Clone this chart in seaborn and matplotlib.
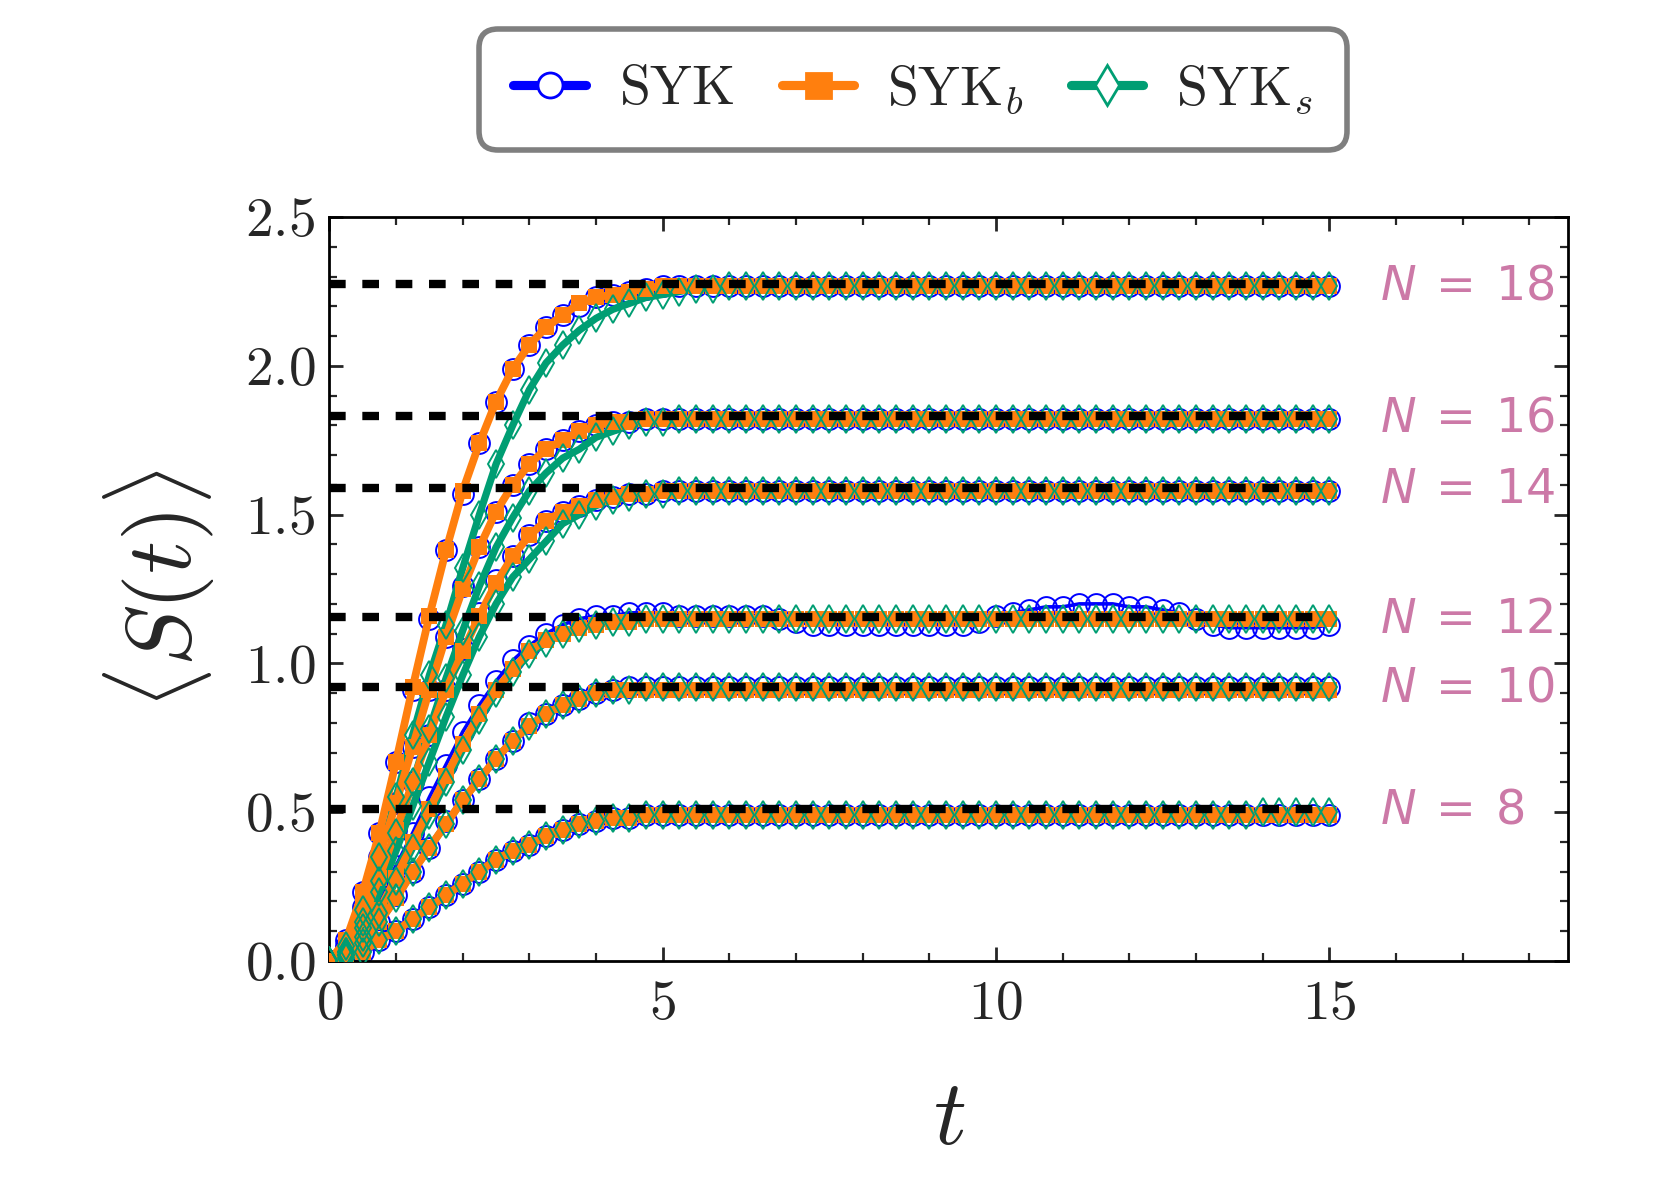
import numpy as np
import matplotlib
matplotlib.use('Agg')
import matplotlib.pyplot as plt
from matplotlib.lines import Line2D
from matplotlib.ticker import MultipleLocator
import seaborn as sns

# time grid of the simulation (step 0.25)
t = np.linspace(0, 15, 61)

n_values = [18, 16, 14, 12, 10, 8]
page_values = [2.275, 1.833, 1.588, 1.155, 0.922, 0.509]
label_y = [2.265, 1.82, 1.58, 1.143, 0.912, 0.502]

# N = 18
syk_18 = [0.00, 0.07, 0.23, 0.43, 0.67, 0.91, 1.15, 1.38, 1.57, 1.74,
          1.88, 1.99, 2.07, 2.13, 2.17, 2.20, 2.23, 2.24, 2.25, 2.26,
          2.27, 2.27, 2.27, 2.27, 2.27, 2.27, 2.27, 2.27, 2.27, 2.27,
          2.27, 2.27, 2.27, 2.27, 2.27, 2.27, 2.27, 2.27, 2.27, 2.27,
          2.27, 2.27, 2.27, 2.27, 2.27, 2.27, 2.27, 2.27, 2.27, 2.27,
          2.27, 2.27, 2.27, 2.27, 2.27, 2.27, 2.27, 2.27, 2.27, 2.27,
          2.27]
sykb_18 = [0.00, 0.07, 0.23, 0.43, 0.67, 0.92, 1.16, 1.38, 1.58, 1.74,
           1.88, 1.99, 2.07, 2.13, 2.17, 2.21, 2.23, 2.24, 2.25, 2.26,
           2.27, 2.27, 2.27, 2.27, 2.27, 2.27, 2.27, 2.27, 2.27, 2.27,
           2.27, 2.27, 2.27, 2.27, 2.27, 2.27, 2.27, 2.27, 2.27, 2.27,
           2.27, 2.27, 2.27, 2.27, 2.27, 2.27, 2.27, 2.27, 2.27, 2.27,
           2.27, 2.27, 2.27, 2.27, 2.27, 2.27, 2.27, 2.27, 2.27, 2.27,
           2.27]
syks_18 = [0.00, 0.05, 0.17, 0.35, 0.55, 0.76, 0.96, 1.13, 1.32, 1.50,
           1.67, 1.80, 1.92, 2.01, 2.07, 2.12, 2.16, 2.19, 2.21, 2.23,
           2.24, 2.25, 2.26, 2.26, 2.27, 2.27, 2.27, 2.27, 2.27, 2.27,
           2.27, 2.27, 2.27, 2.27, 2.27, 2.27, 2.27, 2.27, 2.27, 2.27,
           2.27, 2.27, 2.27, 2.27, 2.27, 2.27, 2.27, 2.27, 2.27, 2.27,
           2.27, 2.27, 2.27, 2.27, 2.27, 2.27, 2.27, 2.27, 2.27, 2.27,
           2.27]

# N = 16
syk_16 = [0.00, 0.05, 0.18, 0.35, 0.53, 0.72, 0.91, 1.09, 1.26, 1.39,
          1.51, 1.60, 1.67, 1.72, 1.75, 1.78, 1.80, 1.81, 1.81, 1.82,
          1.82, 1.82, 1.82, 1.82, 1.82, 1.82, 1.82, 1.82, 1.82, 1.82,
          1.82, 1.82, 1.82, 1.82, 1.82, 1.82, 1.82, 1.82, 1.82, 1.82,
          1.82, 1.82, 1.82, 1.82, 1.82, 1.82, 1.82, 1.82, 1.82, 1.82,
          1.82, 1.82, 1.82, 1.82, 1.82, 1.82, 1.82, 1.82, 1.82, 1.82,
          1.82]
sykb_16 = [0.00, 0.05, 0.18, 0.35, 0.53, 0.72, 0.91, 1.09, 1.25, 1.39,
           1.51, 1.60, 1.67, 1.72, 1.75, 1.78, 1.80, 1.81, 1.81, 1.82,
           1.82, 1.82, 1.82, 1.82, 1.82, 1.82, 1.82, 1.82, 1.82, 1.82,
           1.82, 1.82, 1.82, 1.82, 1.82, 1.82, 1.82, 1.82, 1.82, 1.82,
           1.82, 1.82, 1.82, 1.82, 1.82, 1.82, 1.82, 1.82, 1.82, 1.82,
           1.82, 1.82, 1.82, 1.82, 1.82, 1.82, 1.82, 1.82, 1.82, 1.82,
           1.82]
syks_16 = [0.00, 0.03, 0.13, 0.27, 0.43, 0.60, 0.78, 0.95, 1.11, 1.26,
           1.39, 1.49, 1.58, 1.64, 1.69, 1.72, 1.76, 1.78, 1.80, 1.81,
           1.81, 1.82, 1.82, 1.82, 1.82, 1.82, 1.82, 1.82, 1.82, 1.82,
           1.82, 1.82, 1.82, 1.82, 1.82, 1.82, 1.82, 1.82, 1.82, 1.82,
           1.82, 1.82, 1.82, 1.82, 1.82, 1.82, 1.82, 1.82, 1.82, 1.82,
           1.82, 1.82, 1.82, 1.82, 1.82, 1.82, 1.82, 1.82, 1.82, 1.82,
           1.82]

# N = 14
syk_14 = [0.00, 0.04, 0.14, 0.28, 0.44, 0.60, 0.76, 0.91, 1.05, 1.17,
          1.28, 1.36, 1.43, 1.48, 1.51, 1.53, 1.55, 1.56, 1.57, 1.57,
          1.58, 1.58, 1.58, 1.58, 1.58, 1.58, 1.58, 1.58, 1.58, 1.58,
          1.58, 1.58, 1.58, 1.58, 1.58, 1.58, 1.58, 1.58, 1.58, 1.58,
          1.58, 1.58, 1.58, 1.58, 1.58, 1.58, 1.58, 1.58, 1.58, 1.58,
          1.58, 1.58, 1.58, 1.58, 1.58, 1.58, 1.58, 1.58, 1.58, 1.58,
          1.58]
sykb_14 = [0.00, 0.04, 0.14, 0.28, 0.44, 0.60, 0.76, 0.91, 1.04, 1.16,
           1.27, 1.36, 1.43, 1.48, 1.51, 1.53, 1.55, 1.56, 1.57, 1.57,
           1.58, 1.58, 1.58, 1.58, 1.58, 1.58, 1.58, 1.58, 1.58, 1.58,
           1.58, 1.58, 1.58, 1.58, 1.58, 1.58, 1.58, 1.58, 1.58, 1.58,
           1.58, 1.58, 1.58, 1.58, 1.58, 1.58, 1.58, 1.58, 1.58, 1.58,
           1.58, 1.58, 1.58, 1.58, 1.58, 1.58, 1.58, 1.58, 1.58, 1.58,
           1.58]
syks_14 = [0.00, 0.03, 0.11, 0.23, 0.37, 0.52, 0.67, 0.82, 0.96, 1.09,
           1.20, 1.29, 1.35, 1.41, 1.47, 1.50, 1.53, 1.55, 1.56, 1.57,
           1.57, 1.58, 1.58, 1.58, 1.58, 1.58, 1.58, 1.58, 1.58, 1.58,
           1.58, 1.58, 1.58, 1.58, 1.58, 1.58, 1.58, 1.58, 1.58, 1.58,
           1.58, 1.58, 1.58, 1.58, 1.58, 1.58, 1.58, 1.58, 1.58, 1.58,
           1.58, 1.58, 1.58, 1.58, 1.58, 1.58, 1.58, 1.58, 1.58, 1.58,
           1.58]

# N = 12
syk_12 = [0.00, 0.03, 0.10, 0.21, 0.32, 0.43, 0.55, 0.66, 0.77, 0.86,
          0.94, 1.01, 1.06, 1.10, 1.13, 1.15, 1.16, 1.16, 1.17, 1.17,
          1.17, 1.16, 1.16, 1.16, 1.16, 1.16, 1.16, 1.15, 1.14, 1.13,
          1.13, 1.13, 1.13, 1.13, 1.13, 1.13, 1.13, 1.13, 1.13, 1.14,
          1.16, 1.17, 1.18, 1.19, 1.19, 1.20, 1.20, 1.20, 1.19, 1.19,
          1.18, 1.17, 1.15, 1.13, 1.12, 1.12, 1.12, 1.12, 1.12, 1.12,
          1.13]
sykb_12 = [0.00, 0.02, 0.08, 0.17, 0.28, 0.40, 0.51, 0.62, 0.73, 0.83,
           0.91, 0.98, 1.04, 1.08, 1.10, 1.12, 1.13, 1.14, 1.14, 1.15,
           1.15, 1.15, 1.15, 1.15, 1.15, 1.15, 1.15, 1.15, 1.15, 1.15,
           1.15, 1.15, 1.15, 1.15, 1.15, 1.15, 1.15, 1.15, 1.15, 1.15,
           1.15, 1.15, 1.15, 1.15, 1.15, 1.15, 1.15, 1.15, 1.15, 1.15,
           1.15, 1.15, 1.15, 1.15, 1.15, 1.15, 1.15, 1.15, 1.15, 1.15,
           1.15]
syks_12 = [0.00, 0.02, 0.08, 0.16, 0.27, 0.38, 0.49, 0.60, 0.71, 0.81,
           0.90, 0.97, 1.03, 1.07, 1.10, 1.12, 1.13, 1.14, 1.14, 1.15,
           1.15, 1.15, 1.15, 1.15, 1.15, 1.15, 1.15, 1.15, 1.15, 1.15,
           1.15, 1.15, 1.15, 1.15, 1.15, 1.15, 1.15, 1.15, 1.15, 1.15,
           1.15, 1.15, 1.15, 1.15, 1.15, 1.15, 1.15, 1.15, 1.15, 1.15,
           1.15, 1.15, 1.15, 1.15, 1.15, 1.15, 1.15, 1.15, 1.15, 1.15,
           1.15]

# N = 10
syk_10 = [0.00, 0.02, 0.06, 0.13, 0.22, 0.30, 0.38, 0.47, 0.54, 0.61,
          0.68, 0.74, 0.80, 0.83, 0.86, 0.88, 0.90, 0.91, 0.92, 0.92,
          0.92, 0.92, 0.92, 0.92, 0.92, 0.92, 0.92, 0.92, 0.92, 0.92,
          0.92, 0.92, 0.92, 0.92, 0.92, 0.92, 0.92, 0.92, 0.92, 0.92,
          0.92, 0.92, 0.92, 0.92, 0.92, 0.92, 0.92, 0.92, 0.92, 0.92,
          0.92, 0.92, 0.92, 0.92, 0.92, 0.92, 0.92, 0.92, 0.92, 0.92,
          0.92]
sykb_10 = [0.00, 0.02, 0.06, 0.13, 0.21, 0.30, 0.38, 0.46, 0.54, 0.61,
           0.68, 0.74, 0.79, 0.83, 0.86, 0.88, 0.90, 0.91, 0.91, 0.91,
           0.91, 0.91, 0.91, 0.91, 0.91, 0.91, 0.91, 0.91, 0.91, 0.91,
           0.91, 0.91, 0.91, 0.91, 0.91, 0.91, 0.91, 0.91, 0.91, 0.91,
           0.91, 0.91, 0.91, 0.91, 0.91, 0.91, 0.91, 0.91, 0.91, 0.91,
           0.91, 0.91, 0.91, 0.91, 0.91, 0.91, 0.91, 0.91, 0.91, 0.91,
           0.91]
syks_10 = [0.00, 0.02, 0.06, 0.13, 0.21, 0.30, 0.38, 0.46, 0.54, 0.61,
           0.68, 0.74, 0.79, 0.83, 0.86, 0.88, 0.90, 0.91, 0.91, 0.92,
           0.92, 0.92, 0.92, 0.92, 0.92, 0.92, 0.92, 0.92, 0.92, 0.92,
           0.92, 0.92, 0.92, 0.92, 0.92, 0.92, 0.92, 0.92, 0.92, 0.92,
           0.92, 0.92, 0.92, 0.92, 0.92, 0.92, 0.92, 0.92, 0.92, 0.92,
           0.92, 0.92, 0.92, 0.92, 0.92, 0.92, 0.92, 0.92, 0.92, 0.92,
           0.92]

# N = 8
syk_8 = [0.00, 0.01, 0.03, 0.07, 0.10, 0.14, 0.18, 0.22, 0.26, 0.30,
         0.34, 0.37, 0.39, 0.42, 0.44, 0.46, 0.47, 0.48, 0.48, 0.49,
         0.49, 0.49, 0.49, 0.49, 0.49, 0.49, 0.49, 0.49, 0.49, 0.49,
         0.49, 0.49, 0.49, 0.49, 0.49, 0.49, 0.49, 0.49, 0.49, 0.49,
         0.49, 0.49, 0.49, 0.49, 0.49, 0.49, 0.49, 0.49, 0.49, 0.49,
         0.49, 0.49, 0.49, 0.49, 0.49, 0.49, 0.49, 0.49, 0.49, 0.49,
         0.49]
sykb_8 = [0.00, 0.01, 0.03, 0.07, 0.10, 0.14, 0.18, 0.22, 0.26, 0.30,
          0.34, 0.37, 0.39, 0.42, 0.44, 0.46, 0.47, 0.48, 0.48, 0.49,
          0.49, 0.49, 0.49, 0.49, 0.49, 0.49, 0.49, 0.49, 0.49, 0.49,
          0.49, 0.49, 0.49, 0.49, 0.49, 0.49, 0.49, 0.49, 0.49, 0.49,
          0.49, 0.49, 0.49, 0.49, 0.49, 0.49, 0.49, 0.49, 0.49, 0.49,
          0.49, 0.49, 0.49, 0.49, 0.49, 0.49, 0.49, 0.49, 0.49, 0.49,
          0.49]
syks_8 = [0.00, 0.01, 0.03, 0.07, 0.10, 0.14, 0.18, 0.22, 0.26, 0.30,
          0.34, 0.37, 0.39, 0.42, 0.44, 0.46, 0.47, 0.48, 0.48, 0.49,
          0.49, 0.49, 0.49, 0.49, 0.49, 0.49, 0.49, 0.49, 0.49, 0.49,
          0.49, 0.49, 0.49, 0.49, 0.49, 0.49, 0.49, 0.49, 0.49, 0.49,
          0.49, 0.49, 0.49, 0.49, 0.49, 0.49, 0.49, 0.49, 0.49, 0.49,
          0.49, 0.49, 0.49, 0.49, 0.49, 0.49, 0.50, 0.50, 0.50, 0.50,
          0.50]

syk = [syk_18, syk_16, syk_14, syk_12, syk_10, syk_8]
sykb = [sykb_18, sykb_16, sykb_14, sykb_12, sykb_10, sykb_8]
syks = [syks_18, syks_16, syks_14, syks_12, syks_10, syks_8]

c_syk = '#0000FF'
c_sykb = '#FF7F0E'
c_syks = '#009E73'
c_lab = '#CC79A7'

sns.set_style('ticks')
plt.rcParams['font.family'] = 'serif'
plt.rcParams['font.serif'] = ['cmr10']
plt.rcParams['mathtext.fontset'] = 'cm'
plt.rcParams['axes.formatter.use_mathtext'] = True
plt.rcParams['axes.unicode_minus'] = False

fig = plt.figure(figsize=(8.305, 5.94), dpi=200)
ax = fig.add_axes([0.1983, 0.1912, 0.7457, 0.626])

# SYK at the bottom, SYK_s line under SYK_b, SYK_s diamonds on top
for ys in syk:
    sns.lineplot(x=t, y=ys, ax=ax, color=c_syk, lw=1.3, marker='o', markersize=7.5,
                 markerfacecolor='none', markeredgecolor=c_syk, markeredgewidth=0.7,
                 sort=False, errorbar=None, zorder=2)
for ys in syks:
    sns.lineplot(x=t, y=ys, ax=ax, color=c_syks, lw=2.6,
                 sort=False, errorbar=None, zorder=2.5)
for ys in sykb:
    sns.lineplot(x=t, y=ys, ax=ax, color=c_sykb, lw=2.8, marker='s', markersize=5.5,
                 markerfacecolor=c_sykb, markeredgecolor=c_sykb, markeredgewidth=0,
                 sort=False, errorbar=None, zorder=3)
for ys in syks:
    sns.lineplot(x=t, y=ys, ax=ax, color=c_syks, linestyle='', marker='d', markersize=7,
                 markerfacecolor='none', markeredgecolor=c_syks, markeredgewidth=0.7,
                 sort=False, errorbar=None, zorder=4)

ax.hlines(page_values, t[0], t[-1], colors='k', linestyles=(0, (2, 2)), lw=3, zorder=5)

for n, yl in zip(n_values, label_y):
    ax.text(15.76, yl, rf'$N\:=\:{n}$', color=c_lab, fontsize=17.2, ha='left', va='center',
            math_fontfamily='dejavusans', clip_on=False)

ax.set_xlim(0, 18.58)
ax.set_ylim(0, 2.5)
ax.xaxis.set_major_locator(MultipleLocator(5))
ax.xaxis.set_minor_locator(MultipleLocator(1))
ax.yaxis.set_major_locator(MultipleLocator(0.5))
ax.yaxis.set_minor_locator(MultipleLocator(0.1))
ax.tick_params(which='both', direction='in', top=True, right=True, labelsize=20)
ax.tick_params(which='major', length=5, width=1)
ax.tick_params(which='minor', length=3, width=0.8)
ax.tick_params(axis='x', pad=7)
ax.tick_params(axis='y', pad=5)
for s in ax.spines.values():
    s.set_linewidth(1)
    s.set_color('black')

ax.set_xlabel(r'$t$', fontsize=33, labelpad=18)
ax.set_ylabel(r'$\langle S(t)\rangle$', fontsize=33, labelpad=10)

handles = [
    Line2D([], [], color=c_syk, lw=3.3, marker='o', ms=9, mfc='white', mec=c_syk, mew=1),
    Line2D([], [], color=c_sykb, lw=3.3, marker='s', ms=9, mfc=c_sykb, mec=c_sykb),
    Line2D([], [], color=c_syks, lw=3.3, marker='d', ms=10, mfc='white', mec=c_syks, mew=1),
]
labels = [r'$\mathrm{SYK}$', r'$\mathrm{SYK}_b$', r'$\mathrm{SYK}_s$']
leg = fig.legend(handles, labels, loc='upper center', bbox_to_anchor=(0.5497, 0.976),
                 ncol=3, fontsize=20, frameon=True, fancybox=True, framealpha=1,
                 edgecolor='#7f7f7f', handlelength=1.3, columnspacing=0.85,
                 handletextpad=0.6, borderpad=0.62, borderaxespad=0)
leg.get_frame().set_linewidth(2)
leg.get_frame().set_boxstyle('round', pad=0, rounding_size=0.35)

fig.savefig('out.png', dpi=200)
